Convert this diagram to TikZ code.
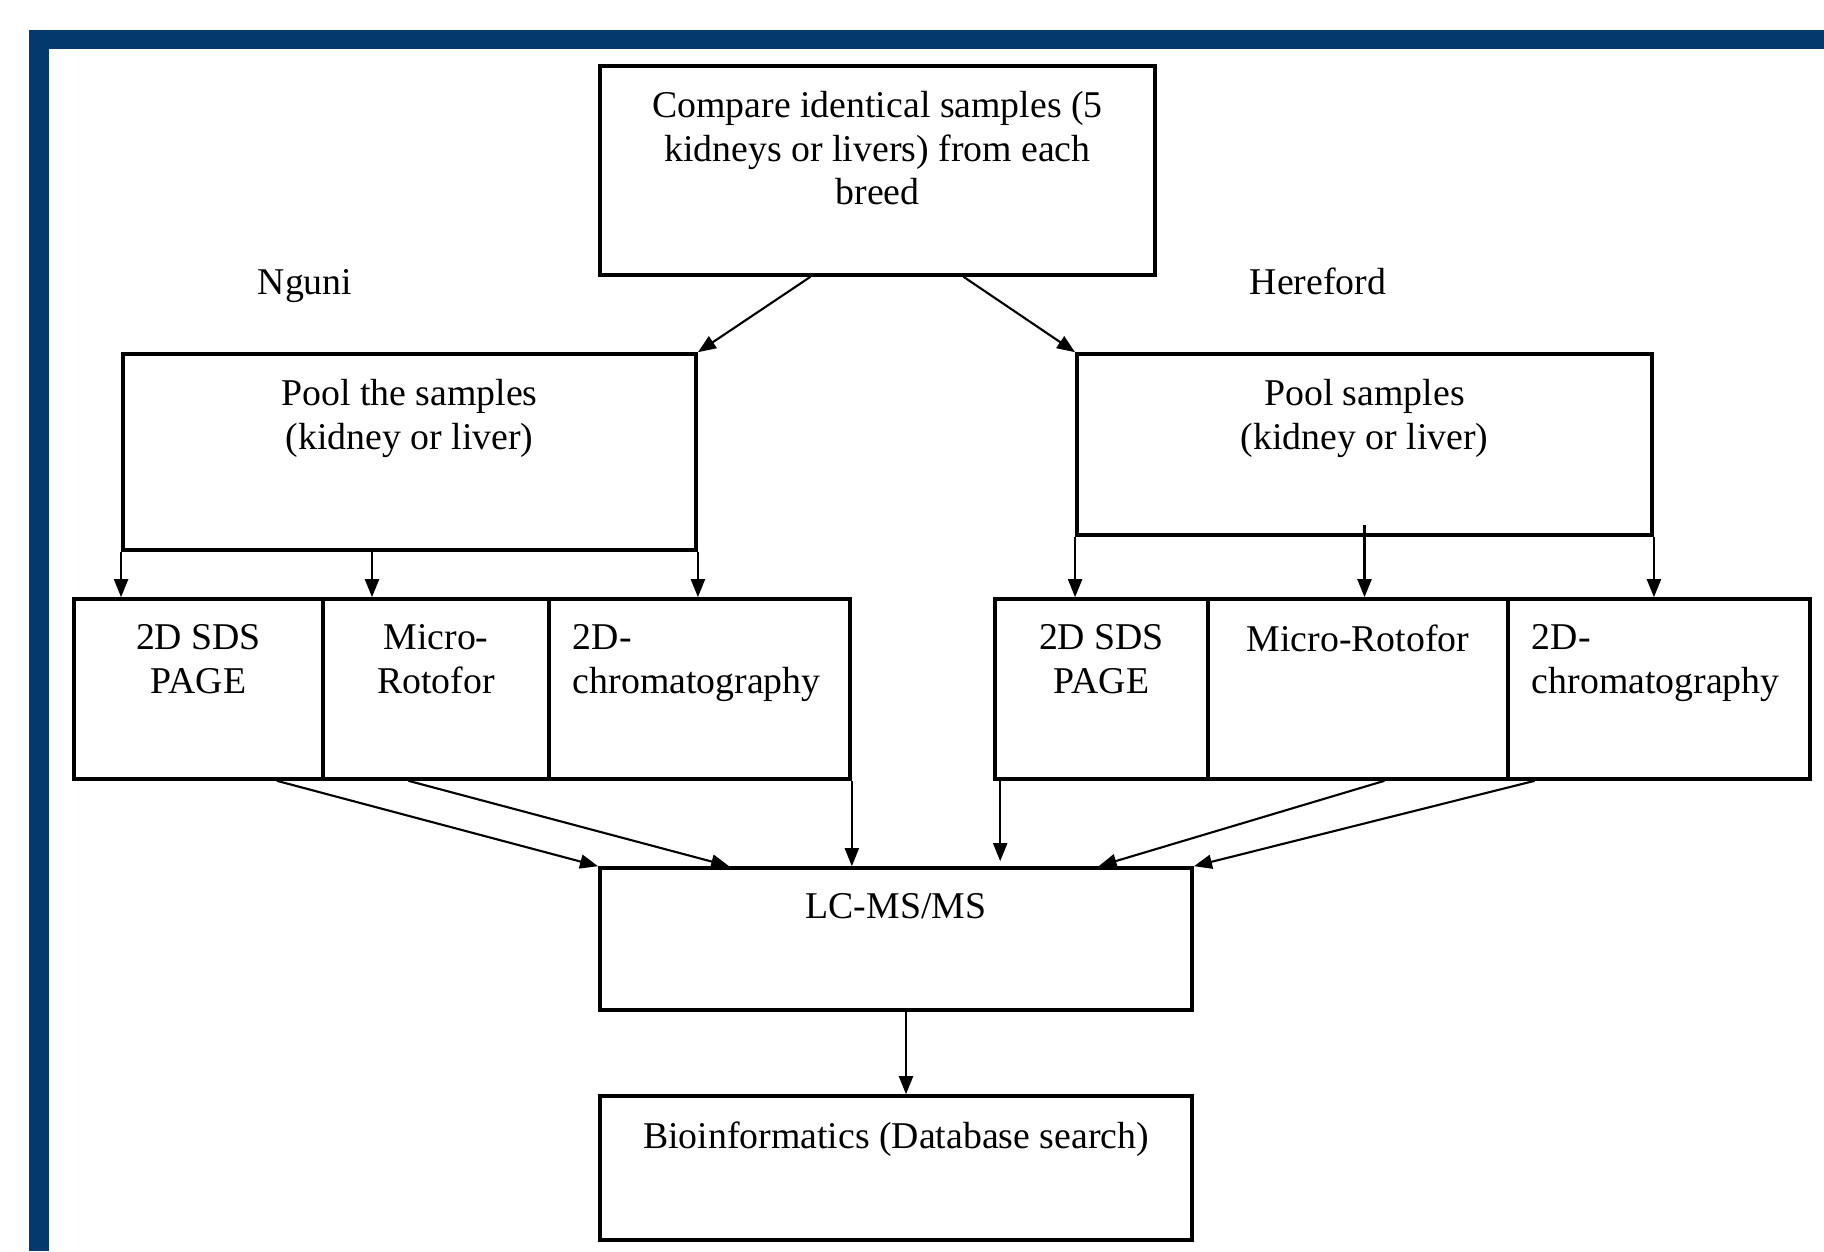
\documentclass[tikz,border=0pt]{standalone}
\usepackage{fontspec}
\setmainfont{Liberation Serif}
\usepackage{xcolor}
\usetikzlibrary{positioning, calc, arrows.meta}
\definecolor{frameBlue}{RGB}{3,57,108}

\begin{document}
\begin{tikzpicture}[
			x=0.01cm, y=-0.01cm,
			box/.style={
				draw,
				line width=1pt,
				rectangle,
				inner sep=0pt
			},
			txt/.style={
				inner sep=0pt,
				align=center,
				font=\fontsize{10.75pt}{12.4pt}\selectfont
			},
			arr/.style={
				-{Triangle[length=1.8mm,width=1.4mm]},
				line width=0.6pt
			}
			]
			
			% Frame
			\useasboundingbox (0,0) rectangle (1824,1251);
			\fill[frameBlue] (29,30) rectangle (1824,1251);
			\fill[white] (49,49) rectangle (1824,1251);
			
			% Boxes
			\node[box, minimum width=5.55cm, minimum height=2.09cm] (cmp) at (877.5,170.5) {};
			\node[box, minimum width=5.73cm, minimum height=1.96cm] (poolL) at (409.5,452) {};
			\node[box, minimum width=5.75cm, minimum height=1.81cm] (poolR) at (1364.5,444.5) {};
			\node[box, minimum width=2.49cm, minimum height=1.80cm] (sdsL) at (198.5,689) {};
			\node[box, minimum width=2.26cm, minimum height=1.80cm] (rotL) at (436,689) {};
			\node[box, minimum width=3.01cm, minimum height=1.80cm] (chromL) at (699.5,689) {};
			\node[box, minimum width=2.13cm, minimum height=1.80cm] (sdsR) at (1101.5,689) {};
			\node[box, minimum width=3.00cm, minimum height=1.80cm] (rotR) at (1358,689) {};
			\node[box, minimum width=3.02cm, minimum height=1.80cm] (chromR) at (1659,689) {};
			\node[box, minimum width=5.92cm, minimum height=1.42cm] (lcms) at (896,939) {};
			\node[box, minimum width=5.92cm, minimum height=1.44cm] (bioinf) at (896,1168) {};
			
			% Texts inside boxes
			\node[txt, below=0.265cm of cmp.north] {Compare identical samples (5\\kidneys or livers) from each\\breed};
			\node[txt, below=0.265cm of poolL.north] {Pool the samples\\(kidney or liver)};
			\node[txt, below=0.265cm of poolR.north] {Pool samples\\(kidney or liver)};
			\node[txt, below=0.265cm of sdsL.north] {2D SDS\\PAGE};
			\node[txt, below=0.265cm of rotL.north] {Micro-\\Rotofor};
			\node[txt, align=left, below right=0.265cm and 0.25cm of chromL.north west] {2D-\\chromatography};
			\node[txt, below=0.265cm of sdsR.north] {2D SDS\\PAGE};
			\node[txt, below=0.265cm of rotR.north] {Micro-Rotofor};
			\node[txt, align=left, below right=0.265cm and 0.25cm of chromR.north west] {2D-\\chromatography};
			\node[txt, below=0.265cm of lcms.north] {LC-MS/MS};
			\node[txt, below=0.265cm of bioinf.north] {Bioinformatics (Database search)};
			
			% Breed labels
			\node[txt, anchor=base] (nguni) at (305,294) {Nguni};
			\node[txt, anchor=base] (hereford) at (1318,294) {Hereford};
			
			% Split by breed
			\draw[arr] ($(cmp.south west)!0.38!(cmp.south east)$) -- (poolL.north east);
			\draw[arr] ($(cmp.south west)!0.654!(cmp.south east)$) -- (poolR.north west);
			
			% Pools to methods
			\coordinate (pLm) at ($(poolL.south west)!0.435!(poolL.south east)$);
			\coordinate (pRm) at ($(poolR.south)+(0,0.12cm)$);
			\draw[arr] (poolL.south west) -- (poolL.south west |- sdsL.north);
			\draw[arr] (pLm) -- (pLm |- sdsL.north);
			\draw[arr] (poolL.south east) -- (poolL.south east |- sdsL.north);
			\draw[arr] (poolR.south west) -- (poolR.south west |- sdsR.north);
			\draw[arr] (pRm) -- (pRm |- sdsR.north);
			\draw[arr] (poolR.south east) -- (poolR.south east |- sdsR.north);
			
			% Methods to LC-MS/MS
			\coordinate (vR) at ($(sdsR.south west)+(0.07cm,0)$);
			\draw[arr] ($(sdsL.south west)!0.81!(sdsL.south east)$) -- (lcms.north west);
			\draw[arr] ($(rotL.south west)!0.38!(rotL.south east)$) -- ($(lcms.north west)!0.22!(lcms.north east)$);
			\draw[arr] (chromL.south east) -- (chromL.south east |- lcms.north);
			\draw[arr] (vR) -- ($(vR |- lcms.north)+(0,0.05cm)$);
			\draw[arr] ($(rotR.south west)!0.587!(rotR.south east)$) -- ($(lcms.north west)!0.84!(lcms.north east)$);
			\draw[arr] ($(chromR.south west)!0.093!(chromR.south east)$) -- (lcms.north east);
			
			% LC-MS/MS to database search
			\coordinate (lb) at ($(lcms.south)+(0.1cm,0)$);
			\draw[arr] (lb) -- (lb |- bioinf.north);
			
		\end{tikzpicture}
\end{document}
